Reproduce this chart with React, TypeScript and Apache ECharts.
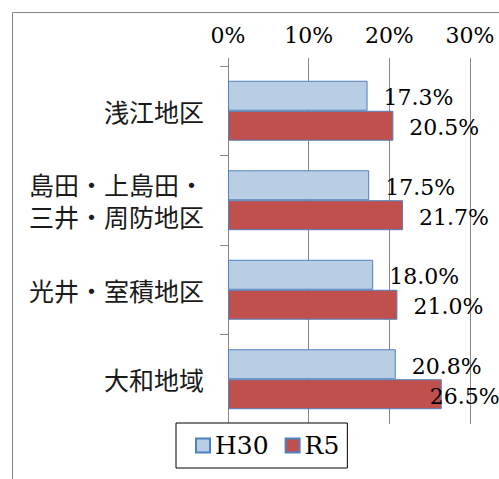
import React, { useEffect, useRef } from "react";
import * as echarts from "echarts";

const categories = ["浅江地区", "島田・上島田・\n三井・周防地区", "光井・室積地区", "大和地域"];
const seriesNames = ["H30", "R5"];
const h30Values = [17.3, 17.5, 18.0, 20.8];
const r5Values = [20.5, 21.7, 21.0, 26.5];
const tickMin = 0;
const tickMax = 30;
const tickInterval = 10;

const SERIF = "DejaVu Serif";
const CJK = "Noto Sans CJK JP";
const GRAY = "#868686";

export default function App() {
  const ref = useRef<HTMLDivElement>(null);
  useEffect(() => {
    if (!ref.current) return;
    const chart = echarts.init(ref.current, null, { renderer: "svg" });
    const labelFmt = (p: any) => `${Number(p.value).toFixed(1)}%`;
    const r5Data = r5Values.map((v, i) =>
      i === r5Values.length - 1
        ? { value: v, label: { offset: [-28, 2] } }
        : v
    );
    chart.setOption({
      animation: false,
      backgroundColor: "#ffffff",
      graphic: [
        {
          type: "polyline",
          shape: { points: [[12.5, 480], [12.5, 12.5], [500, 12.5]] },
          style: { stroke: GRAY, lineWidth: 1, fill: "none" },
          silent: true,
        },
      ],
      grid: { left: 228, right: 29, top: 66, bottom: 55, containLabel: false },
      xAxis: {
        type: "value",
        position: "top",
        min: tickMin,
        max: tickMax,
        interval: tickInterval,
        axisLine: { show: false },
        axisTick: { show: true, length: 8, lineStyle: { color: GRAY } },
        splitLine: { show: true, lineStyle: { color: GRAY, width: 1 } },
        axisLabel: {
          formatter: "{value}%",
          color: "#000",
          fontFamily: SERIF,
          fontSize: 22,
          margin: 20,
        },
      },
      yAxis: {
        type: "category",
        data: categories,
        inverse: true,
        axisLine: { show: true, lineStyle: { color: GRAY } },
        axisTick: { show: true, length: 8, lineStyle: { color: GRAY } },
        axisLabel: {
          color: "#1a1a1a",
          fontFamily: CJK,
          fontSize: 25,
          lineHeight: 32,
          margin: 24,
        },
      },
      legend: {
        data: seriesNames,
        left: 176,
        top: 423,
        orient: "horizontal",
        icon: "rect",
        backgroundColor: "#ffffff",
        borderColor: "#000",
        borderWidth: 1,
        padding: [10, 8, 10, 19],
        itemWidth: 14,
        itemHeight: 14,
        itemGap: 16,
        textStyle: { color: "#000", fontFamily: SERIF, fontSize: 25 },
      },
      series: [
        {
          name: seriesNames[0],
          type: "bar",
          data: h30Values,
          barGap: "0%",
          barCategoryGap: "33%",
          itemStyle: { color: "#B9CDE5", borderColor: "#4F81BD", borderWidth: 1 },
          label: {
            show: true,
            position: "right",
            distance: 16,
            formatter: labelFmt,
            color: "#000",
            fontFamily: SERIF,
            fontSize: 22,
            offset: [0, 2],
          },
        },
        {
          name: seriesNames[1],
          type: "bar",
          data: r5Data,
          barGap: "0%",
          barCategoryGap: "33%",
          itemStyle: { color: "#C0504D", borderColor: "#4F81BD", borderWidth: 1 },
          label: {
            show: true,
            position: "right",
            distance: 16,
            formatter: labelFmt,
            color: "#000",
            fontFamily: SERIF,
            fontSize: 22,
            offset: [0, 2],
          },
        },
      ],
    });
    return () => chart.dispose();
  }, []);
  return (
    <div
      ref={ref}
      style={{ position: "fixed", left: 0, top: 0, width: 499, height: 479, overflow: "hidden" }}
    />
  );
}
